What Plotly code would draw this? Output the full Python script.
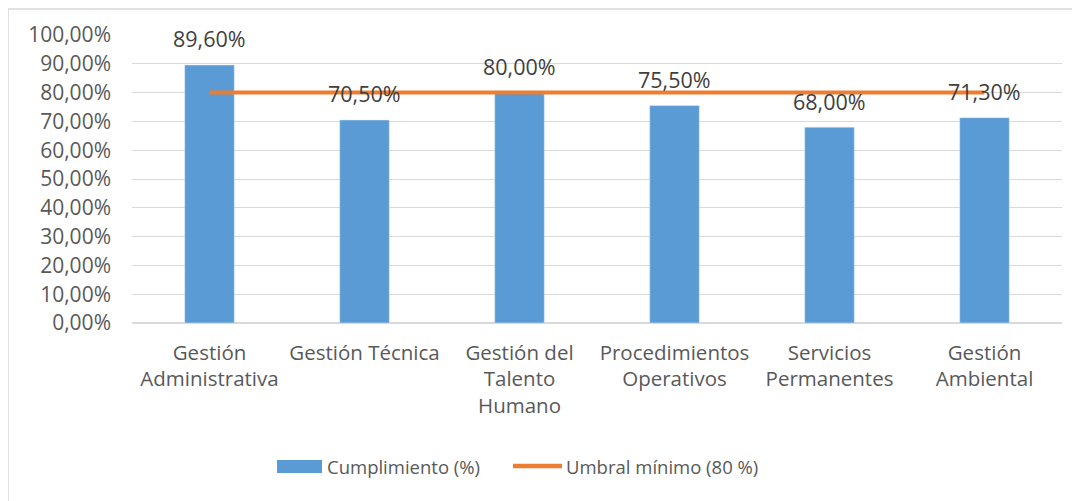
import plotly.graph_objects as go

categorias = [
    "Gestión<br>Administrativa",
    "Gestión Técnica",
    "Gestión del<br>Talento<br>Humano",
    "Procedimientos<br>Operativos",
    "Servicios<br>Permanentes",
    "Gestión<br>Ambiental",
]
cumplimiento = [0.896, 0.705, 0.80, 0.755, 0.68, 0.713]
umbral = [0.80, 0.80, 0.80, 0.80, 0.80, 0.80]
nombres_series = ["Cumplimiento (%)", "Umbral mínimo (80 %)"]

AZUL = "#5B9BD5"
NARANJA = "#ED7D31"
GRIS = "#595959"
FUENTE = "Open Sans, Lato, sans-serif"

fig = go.Figure()

fig.add_trace(go.Bar(
    x=categorias,
    y=cumplimiento,
    name=nombres_series[0],
    marker=dict(color=AZUL),
    width=0.32,
))

fig.add_trace(go.Scatter(
    x=categorias,
    y=umbral,
    mode="lines",
    name=nombres_series[1],
    line=dict(color=NARANJA, width=4),
))

# etiquetas de datos sobre las barras
for cat, val in zip(categorias, cumplimiento):
    fig.add_annotation(
        x=cat, y=val, text=f"{val * 100:.2f}%".replace(".", ","),
        showarrow=False, yanchor="middle", yshift=26,
        font=dict(size=21.5, color="#404040", family=FUENTE),
    )

# leyenda al estilo Excel (rectangulo ancho y linea)
fig.add_shape(type="rect", xref="paper", yref="paper",
              x0=0.1559, x1=0.2043, y0=-0.5208, y1=-0.4757,
              fillcolor=AZUL, line=dict(width=0))
fig.add_annotation(xref="paper", yref="paper", x=0.2075, y=-0.498,
                   xanchor="left", yanchor="middle", showarrow=False,
                   text=nombres_series[0],
                   font=dict(size=18.5, color=GRIS, family=FUENTE))
fig.add_shape(type="line", xref="paper", yref="paper",
              x0=0.4097, x1=0.4624, y0=-0.4965, y1=-0.4965,
              line=dict(color=NARANJA, width=4.5))
fig.add_annotation(xref="paper", yref="paper", x=0.4640, y=-0.498,
                   xanchor="left", yanchor="middle", showarrow=False,
                   text=nombres_series[1],
                   font=dict(size=18.5, color=GRIS, family=FUENTE))

# borde exterior del grafico
fig.add_shape(
    type="rect", xref="paper", yref="paper",
    x0=-0.1333, x1=1.2, y0=-0.8, y1=1.0903,
    line=dict(color="#d9d9d9", width=1.5),
)

fig.update_layout(
    width=1072,
    height=493,
    margin=dict(l=124, r=18, t=27, b=178),
    paper_bgcolor="white",
    plot_bgcolor="white",
    separators=",.",
    font=dict(family=FUENTE, size=20.5, color=GRIS),
    showlegend=False,
    bargap=0.68,
)

fig.update_yaxes(
    range=[0, 1.0], dtick=0.1, tickformat=".2%",
    showgrid=True, gridcolor="#d9d9d9", gridwidth=1,
    zeroline=True, zerolinecolor="#d9d9d9",
    showline=False, ticks="", ticklabelstandoff=20,
    tickfont=dict(size=21),
)
fig.update_xaxes(
    showgrid=False, showline=False, ticks="", tickangle=0,
    ticklabelstandoff=15,
)

fig.write_html("out.html")
